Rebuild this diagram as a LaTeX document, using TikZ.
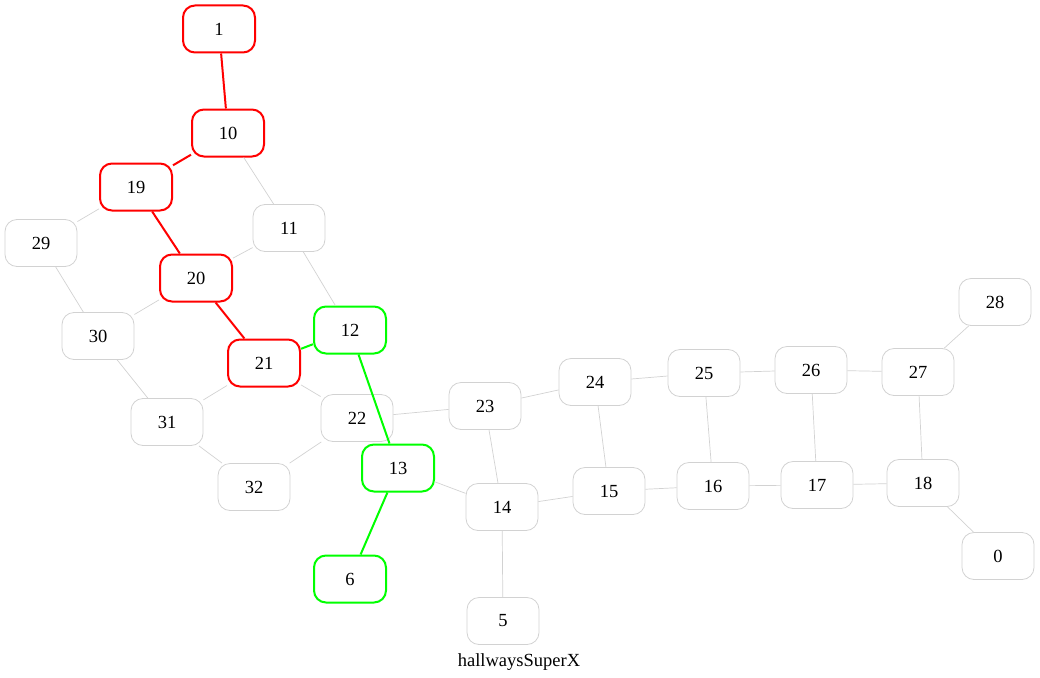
\documentclass[tikz,border=0pt]{standalone}
\usepackage{fontspec}
\setmainfont{Liberation Serif}
\begin{document}
\begin{tikzpicture}[x=1pt,y=-1pt,
  nd/.style={draw=gray!35,line width=0.8pt,rounded corners=12pt,minimum width=72pt,minimum height=47pt,inner sep=0pt,font=\fontsize{18.5}{20}\selectfont},
  rednd/.style={nd,draw=red,line width=2pt},
  grnnd/.style={nd,draw=green,line width=2pt},
  ge/.style={draw=gray!35,line width=0.7pt},
  re/.style={draw=red,line width=2pt},
  gre/.style={draw=green,line width=2pt}]
\useasboundingbox (0,0) rectangle (1040,677);
\node[rednd] (n1) at (219,29) {1};
\node[rednd] (n10) at (228,133) {10};
\node[rednd] (n19) at (136,187) {19};
\node[nd] (n29) at (41,243) {29};
\node[nd] (n11) at (289,228) {11};
\node[rednd] (n20) at (196,278) {20};
\node[nd] (n30) at (98,336) {30};
\node[grnnd] (n12) at (350,330) {12};
\node[rednd] (n21) at (264,363) {21};
\node[nd] (n31) at (167,422) {31};
\node[nd] (n22) at (357,418) {22};
\node[nd] (n32) at (254,487) {32};
\node[grnnd] (n13) at (398,468) {13};
\node[grnnd] (n6) at (350,579) {6};
\node[nd] (n23) at (485,406) {23};
\node[nd] (n14) at (502,507) {14};
\node[nd] (n5) at (503,621) {5};
\node[nd] (n24) at (595,382) {24};
\node[nd] (n15) at (609,491) {15};
\node[nd] (n25) at (704,373) {25};
\node[nd] (n16) at (713,486) {16};
\node[nd] (n26) at (811,370) {26};
\node[nd] (n17) at (817,485) {17};
\node[nd] (n27) at (918,372) {27};
\node[nd] (n18) at (923,483) {18};
\node[nd] (n28) at (995,302) {28};
\node[nd] (n0) at (998,556) {0};
\node[font=\fontsize{18.5}{20}\selectfont] (lbl) at (519,662) {hallwaysSuperX};
\draw[re] (n1) -- (n10);
\draw[re] (n10) -- (n19);
\draw[re] (n19) -- (n20);
\draw[re] (n20) -- (n21);
\draw[gre] (n21) -- (n12);
\draw[gre] (n12) -- (n13);
\draw[gre] (n13) -- (n6);
\draw[ge] (n10) -- (n11);
\draw[ge] (n19) -- (n29);
\draw[ge] (n29) -- (n30);
\draw[ge] (n11) -- (n20);
\draw[ge] (n11) -- (n12);
\draw[ge] (n20) -- (n30);
\draw[ge] (n30) -- (n31);
\draw[ge] (n21) -- (n31);
\draw[ge] (n21) -- (n22);
\draw[ge] (n31) -- (n32);
\draw[ge] (n22) -- (n32);
\draw[ge] (n22) -- (n23);
\draw[ge] (n23) -- (n24);
\draw[ge] (n23) -- (n14);
\draw[ge] (n13) -- (n14);
\draw[ge] (n14) -- (n15);
\draw[ge] (n14) -- (n5);
\draw[ge] (n15) -- (n24);
\draw[ge] (n24) -- (n25);
\draw[ge] (n15) -- (n16);
\draw[ge] (n25) -- (n16);
\draw[ge] (n25) -- (n26);
\draw[ge] (n16) -- (n17);
\draw[ge] (n26) -- (n17);
\draw[ge] (n26) -- (n27);
\draw[ge] (n17) -- (n18);
\draw[ge] (n27) -- (n18);
\draw[ge] (n27) -- (n28);
\draw[ge] (n18) -- (n0);
\end{tikzpicture}
\end{document}
